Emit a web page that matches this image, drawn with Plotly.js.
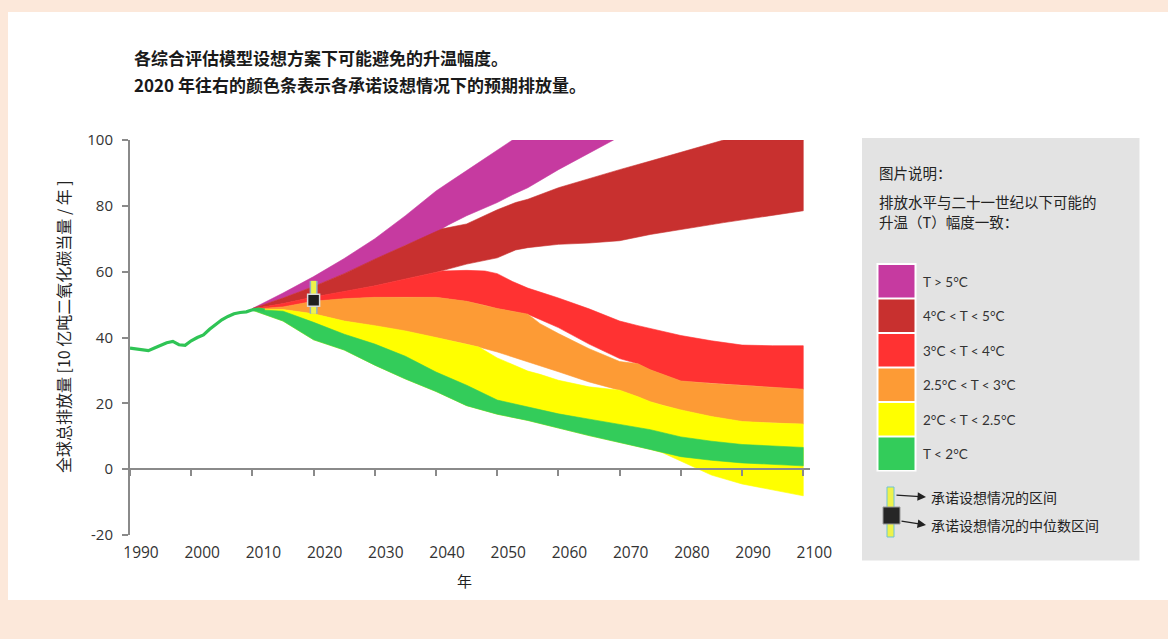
<!DOCTYPE html>
<html>
<head>
<meta charset="utf-8">
<script src="https://cdn.plot.ly/plotly-3.0.1.min.js"></script>
<style>
html,body{margin:0;padding:0;background:#fce8da;}
#chart{width:1168px;height:639px;}
</style>
</head>
<body>
<div id="chart"></div>
<script>
// ---------------- DATA ----------------
const histYears  = [1990,1991,1992,1993,1994,1995,1996,1997,1998,1999,2000,2001,2002,2003,2004,2005,2006,2007,2008,2009,2010,2011,2012];
const histValues = [36.8,36.6,36.2,36.0,36.8,37.6,38.4,38.8,37.8,37.6,39.0,40.0,40.8,42.5,44.0,45.4,46.4,47.2,47.6,47.8,48.4,48.6,48.3];

// T > 5°C
const t5Years = [2010,2015,2020,2025,2030,2035,2040,2041,2042,2045,2050,2052.5,2055,2060,2065,2069];
const t5High  = [48.8,53.5,58.5,64.0,70.0,77.0,84.5,85.8,87.0,90.7,96.8,100,100,100,100,100];
const t5Low   = [48.8,52.0,55.5,59.4,63.8,68.0,72.0,73.0,74.2,77.0,81.0,83.4,85.5,91.0,96.0,100];

// 4°C < T < 5°C
const t45Years = [2010,2015,2020,2025,2030,2035,2040,2041,2045,2050,2053,2055,2060,2065,2070,2075,2080,2085,2087,2090,2095,2100];
const t45High  = [48.8,52.0,55.5,59.4,63.8,68.0,72.0,73.0,74.5,78.8,81.0,82.0,85.5,88.3,91.0,93.6,96.3,99.0,100,100,100,100];
const t45Low   = [48.7,50.3,52.3,54.0,55.7,57.8,59.8,60.2,62.3,64.2,66.6,67.3,68.3,68.7,69.4,71.3,72.8,74.3,74.9,75.8,77.2,78.5];

// 3°C < T < 4°C
const t34Years = [2010,2015,2020,2025,2030,2035,2040,2041,2045,2048,2050,2052.5,2055,2060,2065,2070,2073,2075,2080,2085,2090,2095,2100];
const t34High  = [48.7,50.3,52.3,54.0,55.7,57.8,59.8,60.2,60.4,60.2,59.4,57.0,55.0,52.0,48.7,45.0,43.6,42.7,40.6,39.0,37.7,37.5,37.5];
const t34Low   = [48.6,49.3,51.0,51.8,52.2,52.3,52.2,52.0,51.0,49.8,48.8,48.0,47.1,43.0,38.0,33.6,32.0,30.2,26.8,26.0,25.4,24.9,24.3];

// 2.5°C < T < 3°C
const t253Years = [2010,2015,2020,2025,2030,2035,2040,2045,2047,2050,2055,2057,2060,2065,2070,2073,2075,2080,2085,2090,2095,2100];
const t253High  = [48.6,49.3,51.0,51.8,52.2,52.3,52.2,51.0,50.1,48.8,47.1,44.2,41.2,36.6,32.7,32.0,30.2,26.8,26.0,25.4,24.9,24.3];
const t253Low   = [48.4,48.5,47.2,45.0,43.6,42.0,40.0,38.0,37.1,35.6,32.5,31.4,29.6,26.5,24.0,22.0,20.5,18.0,16.0,14.5,14.0,13.7];

// 2°C < T < 2.5°C
const t225Years = [2010,2015,2020,2025,2030,2035,2040,2045,2047,2050,2055,2057,2060,2065,2069,2070,2073,2075,2077,2080,2085,2090,2095,2100];
const t225High  = [48.4,48.5,47.2,45.0,43.6,42.0,40.0,38.0,37.1,33.8,29.8,28.8,27.0,25.0,24.2,24.0,22.0,20.5,19.4,18.0,16.0,14.5,14.0,13.7];
const t225Low   = [48.3,45.0,39.3,36.2,31.6,27.4,23.6,19.3,18.3,16.7,14.8,13.9,12.5,10.2,8.4,8.0,6.8,6.0,5.0,2.3,-1.8,-4.5,-6.4,-8.1];

// T < 2°C
const t2Years = [2010,2015,2020,2025,2030,2035,2040,2045,2050,2055,2060,2065,2070,2075,2080,2085,2090,2095,2100];
const t2High  = [48.5,48.0,44.6,41.0,38.0,34.3,29.5,25.5,21.0,18.8,16.8,15.2,13.5,12.0,9.8,8.5,7.5,7.0,6.6];
const t2Low   = [48.3,45.0,39.3,36.2,31.6,27.4,23.6,19.3,16.7,14.8,12.5,10.2,8.0,6.0,3.8,2.7,1.9,1.4,1.0];

// pledge (commitment) scenarios around 2020
const commitYear   = [2020];
const commitLow    = [47.2];
const commitHigh   = [57.2];
const commitMedian = [51.3];

const bandNames  = ['T > 5°C','4°C < T < 5°C','3°C < T < 4°C','2.5°C < T < 3°C','2°C < T < 2.5°C','T < 2°C'];
const bandColors = ['#c63aa0','#c8302f','#ff3232','#fd9b35','#ffff00','#33cc5a'];

const xTickVals = [1990,2000,2010,2020,2030,2040,2050,2060,2070,2080,2090,2100];
const yTickVals = [-20,0,20,40,60,80,100];

const titleLines = ['各综合评估模型设想方案下可能避免的升温幅度。','2020 年往右的颜色条表示各承诺设想情况下的预期排放量。'];
const yTitle = '全球总排放量 [10 亿吨二氧化碳当量 / 年 ]';
const xTitle = '年';
const legendHead = ['图片说明：','排放水平与二十一世纪以下可能的','升温（T）幅度一致：'];
const pledgeLabels = ['承诺设想情况的区间','承诺设想情况的中位数区间'];

// ---------------- BUILD ----------------
const CJK = '"Noto Sans CJK SC", "Noto Sans", sans-serif';
const L = 130, R = 810, T = 140, B = 535;
const px2x = p => (p - L) / (R - L);
const px2y = p => (B - p) / (B - T);

const bands = [
  [t5Years, t5High, t5Low],
  [t45Years, t45High, t45Low],
  [t34Years, t34High, t34Low],
  [t253Years, t253High, t253Low],
  [t225Years, t225High, t225Low],
  [t2Years, t2High, t2Low]
];

const traces = [];
bands.forEach((b, i) => {
  const [yrs, hi, lo] = b;
  traces.push({
    type: 'scatter', mode: 'lines', name: bandNames[i],
    x: yrs.concat(yrs.slice().reverse()),
    y: hi.concat(lo.slice().reverse()),
    fill: 'toself', fillcolor: bandColors[i],
    line: {color: bandColors[i], width: 0.6},
    hoverinfo: 'skip', showlegend: false
  });
});

traces.push({
  type: 'scatter', mode: 'lines', xaxis: 'x2', yaxis: 'y',
  x: histYears, y: histValues,
  line: {color: '#2fc455', width: 3.2},
  hoverinfo: 'skip', showlegend: false
});
traces.push({
  type: 'scatter', mode: 'lines', xaxis: 'x2', yaxis: 'y',
  x: [commitYear[0], commitYear[0]], y: [commitLow[0], commitHigh[0]],
  line: {color: '#8fb0c4', width: 8},
  hoverinfo: 'skip', showlegend: false
});
traces.push({
  type: 'scatter', mode: 'lines', xaxis: 'x2', yaxis: 'y',
  x: [commitYear[0], commitYear[0]], y: [commitLow[0], commitHigh[0]],
  line: {color: '#eef24a', width: 5},
  hoverinfo: 'skip', showlegend: false
});
traces.push({
  type: 'scatter', mode: 'markers', xaxis: 'x2', yaxis: 'y',
  x: commitYear, y: commitMedian,
  marker: {symbol: 'square', size: 12, color: '#1f1f1f', line: {color: '#d9d9d9', width: 1.5}},
  hoverinfo: 'skip', showlegend: false
});

const shapes = [];
// white card
shapes.push({type:'rect', xref:'paper', yref:'paper', layer:'below',
  x0: px2x(8), x1: px2x(1170), y0: px2y(600), y1: px2y(12),
  fillcolor:'#ffffff', line:{width:0}});
// legend panel
shapes.push({type:'rect', xref:'paper', yref:'paper', layer:'below',
  x0: px2x(862), x1: px2x(1139.5), y0: px2y(560.5), y1: px2y(138),
  fillcolor:'#e3e3e3', line:{width:0}});
// swatch column (white border)
shapes.push({type:'rect', xref:'paper', yref:'paper', layer:'below',
  x0: px2x(876.5), x1: px2x(916.5), y0: px2y(471.5), y1: px2y(263),
  fillcolor:'#ffffff', line:{width:0}});

const annotations = [];
bandNames.forEach((name, i) => {
  const top = 265 + 34.5 * i;
  shapes.push({type:'rect', xref:'paper', yref:'paper', layer:'below',
    x0: px2x(878.5), x1: px2x(914.5), y0: px2y(top + 32.5), y1: px2y(top),
    fillcolor: bandColors[i], line:{width:0}});
  annotations.push({xref:'paper', yref:'paper', x: px2x(921), y: px2y(top + 16.5),
    xanchor:'left', yanchor:'middle', showarrow:false, text: name,
    font:{family:'Lato, "Open Sans", sans-serif', size:13.5, color:'#333'}});
});

// pledge legend glyphs
shapes.push({type:'rect', xref:'paper', yref:'paper', layer:'above',
  x0: px2x(887), x1: px2x(894), y0: px2y(537), y1: px2y(487),
  fillcolor:'#eef24a', line:{color:'#6cc3d5', width:1}});
shapes.push({type:'rect', xref:'paper', yref:'paper', layer:'above',
  x0: px2x(883), x1: px2x(900), y0: px2y(524), y1: px2y(507),
  fillcolor:'#262626', line:{color:'#9a9a9a', width:1}});

// arrows
annotations.push({xref:'paper', yref:'paper', x: px2x(926), y: px2y(497), ax:-31, ay:-2,
  text:'', showarrow:true, arrowhead:2, arrowsize:1.3, arrowwidth:1.3, arrowcolor:'#222'});
annotations.push({xref:'paper', yref:'paper', x: px2x(926), y: px2y(525), ax:-26, ay:-4,
  text:'', showarrow:true, arrowhead:2, arrowsize:1.3, arrowwidth:1.3, arrowcolor:'#222'});
annotations.push({xref:'paper', yref:'paper', x: px2x(929), y: px2y(497), xanchor:'left', yanchor:'middle',
  showarrow:false, text: pledgeLabels[0], font:{family:CJK, size:14, color:'#222'}});
annotations.push({xref:'paper', yref:'paper', x: px2x(929), y: px2y(525), xanchor:'left', yanchor:'middle',
  showarrow:false, text: pledgeLabels[1], font:{family:CJK, size:14, color:'#222'}});

// legend heading
const headY = [172, 202, 221];
legendHead.forEach((t, i) => {
  annotations.push({xref:'paper', yref:'paper', x: px2x(877), y: px2y(headY[i]), xanchor:'left', yanchor:'middle',
    showarrow:false, text: t, font:{family:CJK, size:14.5, color:'#222'}});
});

// chart title lines
const titleY = [57, 85];
titleLines.forEach((t, i) => {
  annotations.push({xref:'paper', yref:'paper', x: px2x(132), y: px2y(titleY[i]), xanchor:'left', yanchor:'middle',
    showarrow:false, text: t, font:{family:CJK, size:17, color:'#1a1a1a', weight:'bold'}});
});

// axis titles
annotations.push({xref:'paper', yref:'paper', x: px2x(63), y: px2y(327), xanchor:'center', yanchor:'middle',
  showarrow:false, textangle:-90, text: yTitle, font:{family:CJK, size:16, color:'#222'}});
annotations.push({xref:'paper', yref:'paper', x: px2x(464), y: px2y(580), xanchor:'center', yanchor:'middle',
  showarrow:false, text: xTitle, font:{family:CJK, size:15, color:'#222'}});

const axisGrey = '#8a8a8a';
const layout = {
  width: 1168, height: 639,
  margin: {l: L, r: 1168 - R, t: T, b: 639 - B, pad: 0},
  paper_bgcolor: '#fce8da',
  plot_bgcolor: 'rgba(0,0,0,0)',
  showlegend: false,
  xaxis: {
    range: [1990, 2101.1], tickvals: xTickVals, ticktext: xTickVals.map(String),
    showgrid: false, zeroline: false, showline: false, ticks: '',
    ticklabelshift: 11, ticklabelstandoff: 6,
    tickfont: {family: '"Open Sans", sans-serif', size: 15.5, color: '#333'},
    fixedrange: true
  },
  xaxis2: {
    overlaying: 'x', anchor: 'free', position: 20 / 120,
    range: [1990, 2101.1], tickvals: xTickVals,
    showgrid: false, zeroline: false, showline: true, linecolor: axisGrey, linewidth: 2,
    ticks: 'outside', ticklen: 6, tickwidth: 2, tickcolor: axisGrey,
    showticklabels: false, fixedrange: true
  },
  yaxis: {
    range: [-20, 100], tickvals: yTickVals, ticktext: yTickVals.map(String),
    showgrid: false, zeroline: false, showline: true, linecolor: axisGrey, linewidth: 2,
    ticks: 'outside', ticklen: 6, tickwidth: 2, tickcolor: axisGrey,
    ticklabelstandoff: 6,
    tickfont: {family: '"Open Sans", sans-serif', size: 15, color: '#333'},
    fixedrange: true
  },
  shapes: shapes,
  annotations: annotations
};

Plotly.newPlot('chart', traces, layout, {displayModeBar: false, staticPlot: true});
</script>
</body>
</html>
